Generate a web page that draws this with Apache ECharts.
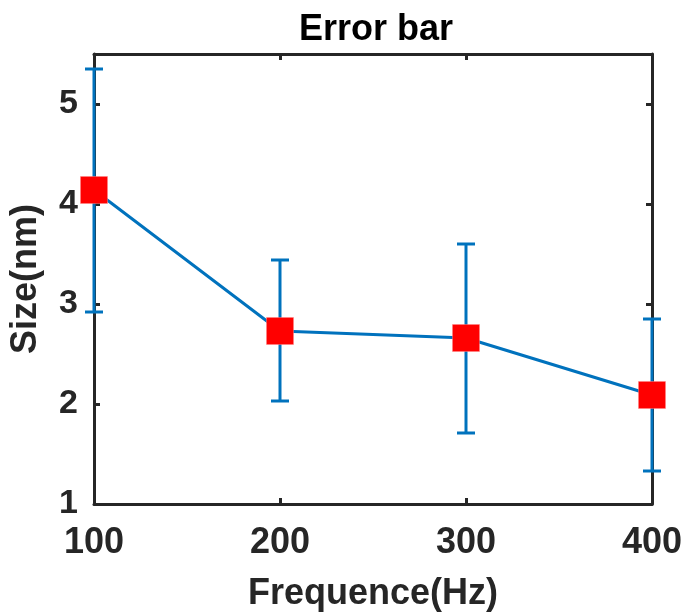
<!DOCTYPE html>
<html>
<head>
<meta charset="utf-8">
<script src="https://cdn.jsdelivr.net/npm/echarts@6/dist/echarts.min.js"></script>
<style>
  html, body { margin: 0; padding: 0; background: #fff; }
  #container { width: 681px; height: 613px; }
</style>
</head>
<body>
<div id="container"></div>
<script type="text/javascript">
var freq = [100, 200, 300, 400];
var sizeNm = [4.14, 2.73, 2.66, 2.09];
var lower = [2.92, 2.03, 1.71, 1.33];
var upper = [5.35, 3.44, 3.60, 2.85];

var blue = '#0072BD';
var axisColor = '#262626';
var font = '"Liberation Sans", Arial, Helvetica, sans-serif';

var dom = document.getElementById("container");
var myChart = echarts.init(dom);

var lineData = [];
var errData = [];
for (var i = 0; i < freq.length; i++) {
    lineData.push([freq[i], sizeNm[i]]);
    errData.push([freq[i], lower[i], upper[i]]);
}

function renderErr(params, api) {
    var x = api.value(0);
    var lo = api.coord([x, api.value(1)]);
    var hi = api.coord([x, api.value(2)]);
    var hw = 9;
    var style = { stroke: blue, lineWidth: 3 };
    return {
        type: 'group',
        children: [
            { type: 'line', shape: { x1: lo[0], y1: lo[1], x2: hi[0], y2: hi[1] }, style: style },
            { type: 'line', shape: { x1: lo[0] - hw, y1: lo[1], x2: lo[0] + hw, y2: lo[1] }, style: style },
            { type: 'line', shape: { x1: hi[0] - hw, y1: hi[1], x2: hi[0] + hw, y2: hi[1] }, style: style }
        ]
    };
}

var axisLine = { show: true, onZero: false, lineStyle: { color: axisColor, width: 3 } };
var axisTick = { show: true, inside: true, length: 6, lineStyle: { color: axisColor, width: 3 } };

option = {
    animation: false,
    title: {
        text: 'Error bar',
        left: 371,
        textAlign: 'center',
        top: 7,
        textStyle: { fontFamily: font, fontSize: 36, fontWeight: 'bold', color: '#000' }
    },
    grid: { left: 94, right: 29, top: 54, bottom: 109, outerBoundsMode: 'none', containLabel: false },
    xAxis: [
        {
            type: 'value', position: 'bottom',
            min: 100, max: 400, interval: 100,
            name: 'Frequence(Hz)', nameLocation: 'middle', nameGap: 72,
            nameTextStyle: { fontFamily: font, fontSize: 36, fontWeight: 'bold', color: axisColor },
            axisLine: axisLine, axisTick: axisTick,
            axisLabel: { margin: 21, fontFamily: font, fontSize: 36, fontWeight: 'bold', color: axisColor },
            splitLine: { show: false }
        },
        {
            type: 'value', position: 'top',
            min: 100, max: 400, interval: 100,
            axisLine: axisLine, axisTick: axisTick,
            axisLabel: { show: false }, splitLine: { show: false }
        }
    ],
    yAxis: [
        {
            type: 'value', position: 'left',
            min: 1, max: 5.5, interval: 1,
            name: 'Size(nm)', nameLocation: 'middle', nameGap: 50,
            nameTextStyle: { fontFamily: font, fontSize: 36, fontWeight: 'bold', color: axisColor },
            axisLine: axisLine, axisTick: axisTick,
            axisLabel: {
                margin: 16, fontFamily: font, fontSize: 34, fontWeight: 'bold', color: axisColor,
                formatter: function (v) { return v % 1 === 0 ? String(v) : ''; }
            },
            splitLine: { show: false }
        },
        {
            type: 'value', position: 'right',
            min: 1, max: 5.5, interval: 1,
            axisLine: axisLine, axisTick: axisTick,
            axisLabel: { show: false }, splitLine: { show: false }
        }
    ],
    series: [
        {
            type: 'custom',
            renderItem: renderErr,
            data: errData,
            clip: false,
            z: 2
        },
        {
            type: 'line',
            data: lineData,
            symbol: 'rect',
            symbolSize: 27,
            showAllSymbol: true,
            clip: false,
            lineStyle: { color: blue, width: 3 },
            itemStyle: { color: '#FF0000', borderColor: '#FF8080', borderWidth: 0.5 },
            z: 3
        }
    ]
};

if (option && typeof option === "object") {
    myChart.setOption(option, true);
}
</script>
</body>
</html>
